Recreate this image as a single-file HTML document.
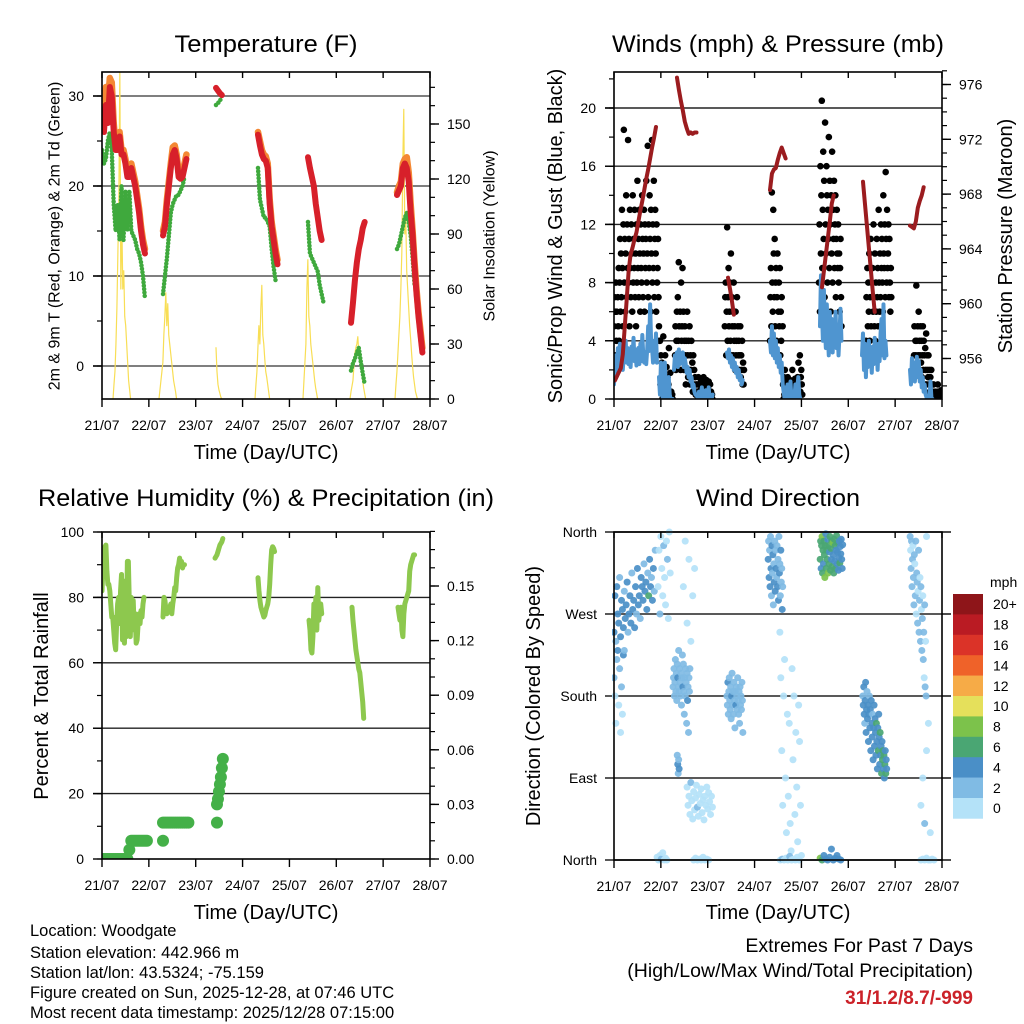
<!DOCTYPE html>
<html><head><meta charset="utf-8"><title>Weather station summary</title>
<style>
html,body{margin:0;padding:0;background:#fff;}
svg{display:block;font-family:"Liberation Sans",Arial,sans-serif;}
</style></head>
<body>
<svg id="chart" width="1024" height="1024" viewBox="0 0 1024 1024" xmlns="http://www.w3.org/2000/svg">
<rect width="1024" height="1024" fill="#fff"/>
<defs>
<clipPath id="c1"><rect x="102" y="72" width="328" height="327"/></clipPath>
<clipPath id="c2"><rect x="614" y="72" width="328" height="327"/></clipPath>
<clipPath id="c3"><rect x="102" y="532" width="328" height="327"/></clipPath>
<clipPath id="c4"><rect x="612" y="528" width="332" height="336"/></clipPath>
</defs>
<g font-size="24" text-anchor="middle" fill="#000">
<text x="266" y="52" textLength="183" lengthAdjust="spacingAndGlyphs">Temperature (F)</text>
<text x="778" y="52" textLength="332" lengthAdjust="spacingAndGlyphs">Winds (mph) &amp; Pressure (mb)</text>
<text x="266" y="506" textLength="456" lengthAdjust="spacingAndGlyphs">Relative Humidity (%) &amp; Precipitation (in)</text>
<text x="778" y="506" textLength="164" lengthAdjust="spacingAndGlyphs">Wind Direction</text>
</g>
<g font-size="20" text-anchor="middle">
<text x="266" y="459">Time (Day/UTC)</text>
<text x="778" y="459">Time (Day/UTC)</text>
<text x="266" y="919">Time (Day/UTC)</text>
<text x="778" y="919">Time (Day/UTC)</text>
<text font-size="16" transform="translate(55,236) rotate(-90)" dominant-baseline="central">2m &amp; 9m T (Red, Orange) &amp; 2m Td (Green)</text>
<text font-size="16" transform="translate(490,236) rotate(-90)" dominant-baseline="central">Solar Insolation (Yellow)</text>
<text transform="translate(556,236) rotate(-90)" dominant-baseline="central">Sonic/Prop Wind &amp; Gust (Blue, Black)</text>
<text transform="translate(1006,236) rotate(-90)" dominant-baseline="central">Station Pressure (Maroon)</text>
<text transform="translate(42,696) rotate(-90)" dominant-baseline="central">Percent &amp; Total Rainfall</text>
<text transform="translate(534,696) rotate(-90)" dominant-baseline="central">Direction (Colored By Speed)</text>
</g>
<g font-size="16.5">
<text x="30" y="936">Location: Woodgate</text>
<text x="30" y="958">Station elevation: 442.966 m</text>
<text x="30" y="978">Station lat/lon: 43.5324; -75.159</text>
<text x="30" y="998">Figure created on Sun, 2025-12-28, at 07:46 UTC</text>
<text x="30" y="1018">Most recent data timestamp: 2025/12/28 07:15:00</text>
</g>
<g font-size="19.5" text-anchor="end">
<text x="973" y="952">Extremes For Past 7 Days</text>
<text x="973" y="977">(High/Low/Max Wind/Total Precipitation)</text>
<text x="973" y="1004" fill="#cc2229" font-weight="bold" font-size="19">31/1.2/8.7/-999</text>
</g>
<g id="layer"></g>
</svg>
<script>
// ---------- DATA ----------
const dayLabels = ["21/07","22/07","23/07","24/07","25/07","26/07","27/07","28/07"];
const tempTicks = [0,10,20,30];
const solarTicks = [0,30,60,90,120,150];
const windTicks = [0,4,8,12,16,20];
const pressTicks = [956,960,964,968,972,976];
const rhTicks = [0,20,40,60,80,100];
const precipTicks = ["0.00","0.03","0.06","0.09","0.12","0.15"];
const dirTicks = [0,90,180,270,360];
const dirNames = ["North","East","South","West","North"];
const speedBins = ["0","2","4","6","8","10","12","14","16","18","20+"];
const speedColors = ["#b4e2f8","#80bbe4","#4a8fc7","#4aa673","#7cc24b","#e5e05b","#f6ab47","#ef6229","#db3328","#ba1b23","#8e1519"];

const H = 1/24;
const tempRed = [
 {start:0, step:H, vals:[28.5,26,29,27,31,30,26,24,24,25.5,23.5,23.5,22.5,21,21,22,21,20,18.5,17,15,13.5,12.5]},
 {start:1.302, step:H, vals:[14.5,15.5,18,20,22,23.5,24,23,21,20.8,21,22,23]},
 {start:2.433, step:H, vals:[30.9,30.6,30.3,30.1]},
 {start:3.329, step:H, vals:[25.7,24.5,23.5,23,22.8,22,18,15.5,14,12.5,11.3]},
 {start:4.396, step:H, vals:[23.2,22,21,20,18,16.5,15,14]},
 {start:5.314, step:H, vals:[4.8,7,9.5,11.5,13,14,15.3,16]},
 {start:6.296, step:H, vals:[19,19.5,20,22,22.5,22,20.5,17,14.5,11,8,5.5,3.5,1.5]}
];
const tempOrange = [
 {start:0, step:H, vals:[29.5,28,31,29,32,31.5,27,24.5,24.5,26,24,24,23,21.5,21.5,22.5,21.5,20.5,19,17.5,15.5,14,13]},
 {start:1.302, step:H, vals:[15,16,18.5,20.5,22.5,24.3,24.5,23.5,21.5,21.2,21.5,22.5,23.5]},
 {start:3.329, step:H, vals:[26,25,24,23.5,23.3,22.5,18.5,16,14.5,13,11.8]},
 {start:6.296, step:H, vals:[19.3,20,20.5,22.5,23,23.2,21.5,18,15,11.5,8.5,6,4,2]}
];
const dewGreen = [
 {start:0, step:H, vals:[24,22.5,23,25,26,24,18,15,18,14,20,14,19.5,15,19.5,15,14.5,14,13,12.5,11.5,10,7.5]},
 {start:1.302, step:H, vals:[8,10,12,14.5,17,18,18.5,19,19,19.5,20,21]},
 {start:2.433, step:H, vals:[29,29.2,29.5,29.8]},
 {start:3.329, step:H, vals:[22,18.5,17.5,16.5,16.5,16,15.5,13,11,9.5]},
 {start:4.396, step:H, vals:[16,12.5,12,11.5,11,10.5,9,8,7]},
 {start:5.314, step:H, vals:[-0.5,0.3,0.8,1.5,2,0.5,-0.8,-2]},
 {start:6.296, step:H, vals:[13,13.5,14.5,15.5,16.5,17,16,14.5,12,9]}
];
const solar = [
 {start:0.235, step:H/2, vals:[0,8,15,30,50,80,110,180,60,100,60,70,45,40,30,20,10,5,0]},
 {start:1.216, step:H/2, vals:[0,5,10,15,20,35,45,58,40,52,35,30,25,20,15,10,7,4,0]},
 {start:2.433, step:H/2, vals:[28,15,8,5,3,1,0]},
 {start:3.265, step:H/2, vals:[0,8,15,28,40,30,50,62,35,30,22,15,12,8,4,0]},
 {start:4.289, step:H/2, vals:[0,10,20,30,60,76,45,40,30,25,20,15,10,6,3,0]},
 {start:5.293, step:H/2, vals:[0,4,7,10,18,25,28,30,34,25,22,20,15,10,6,3,0]},
 {start:6.253, step:H/2, vals:[0,8,15,25,35,45,60,80,130,158,90,100,70,60,50,40,33,25,18,12,8,4,2,0]}
];
const windSustained = [
 {start:0, step:H/2, vals:[1,2.5,3,2,3.5,2.2,3.8,2.5,3.3,2,3,2.8,4,2.5,3.5,2.4,3.2,2.2,3.6,2.8,4.2,2.6,3.4,2.3,3,3.5,2.4,3.8,2.6,4.4,3,2.5,3.2,2.4,3.4,5,3.3,6.5,4,3.5,2.5,4,3,4.5,2.5]},
 {start:0.960, step:H/2, vals:[1.5,0.3,2.5,0.5,0,1,2.5,0.5,0,0,1.5,0.3,0,0,0]},
 {start:1.280, step:H/2, vals:[2,3,2.5,3.2,2.2,3.4,2.4,3,2.6,3.2,2.2,2.8,2.4,1.8,2.2,1.5,2,1.2,1.5,0.8,1,0.5,0.3]},
 {start:1.771, step:H/2, vals:[0.2,0,0.5,0,0.3,0.8,0,0.4,0,0.6,0,0.3,0.8,0,0.2,0,0.3]},
 {start:2.412, step:H/2, vals:[3.2,2.8,3.4,2.5,3,2.2,2.8,2,2.5,1.8,2.2,1.5,2,1.3,1.6,1,1.3]},
 {start:3.329, step:H/2, vals:[4,3.2,5,3,4.5,2.8,4,2.5,3.5,2.2,3,1.8,2.5,1,0.5,0,0.8,0,1,0.3,0,1.2,0,0.5,0.2,0,1,0,0.8,1.5,0.3,0]},
 {start:4.396, step:H/2, vals:[5,8.5,6,4,7.5,5,3.5,6.5,4.5,3,6,4,5.5,3.2,5,4,6,3.5,5,3,4.5,6.2,4]},
 {start:5.293, step:H/2, vals:[3,4.5,2,3.8,1.5,3.5,2.2,4,2.5,3.2,1.8,3.6,2.4,4.2,2.8,3.4,2,3.8,2.6,4.5,5.5,3,6.5,2.8,4,3]},
 {start:6.317, step:H/2, vals:[2,1,2.8,1.5,2.5,1.2,2.2,2.9,1.5,2.6,1.2,2,0.8,1.5,0.5,1,0.3,0.1,0,0,0.2,1.2,0,0]}
];
const windGust = [
 {start:0, step:0.01, vals:[5,7,3,6,8,4,6,2,7,5,9,4,8,11,6,10,7,13,9,5,12,18.5,8,11,6,10,14,7,12,9,17.8,8,11,5,13,9,7,12,10,6,14,8,11,9,13,7,10,5,12,8,15,9,11,7,13,10,6,12,9,8,14,11,7,10,13,6,12,9,11,15,8,10,17.4,7,12,9,14,11,6,13,10,17.8,8,12,9,15,7,11,13,10,6,12,8,9,11,7,5,4]},
 {start:0.982, step:0.01, vals:[4,1,3,0.5,2.5,0,1.5,4.3,0.8,2,0,3,1,0,2.2,0.5,1.5,0,1,3.5,0.3,0,1.8,0,0.5,0,0.3,0]},
 {start:1.302, step:0.01, vals:[3,5,2,4,6,3,7,4,9.4,5,3,6,2,8,4,5,9,3,6,2,4,5,3,1,4,2,6,3,1.5,4,2,5,1,3,2,4,1,2.5,0.5,3,1,2,0.5,1.5,0.3,1,0.5]},
 {start:1.771, step:0.01, vals:[0.5,1,0,1.5,0.3,0,1,0.6,0,1.2,0.4,0,0.8,0,1.5,0.2,0,1,0.5,0,1.3,0.3,0,0.8,0,1.2,0.5,0,1,0.2,0.5,0,0.3,0]},
 {start:2.365, step:0.01, vals:[5,7,8,3,6,11.8,4,7,9,5,6,8,4,10,3,7,5,6,3,8,4,5,2,6,3,4,7,2,5,3,4,2,3,5,1.5,3,2,4,1,2.5,1,2]},
 {start:3.329, step:0.01, vals:[4,7,9,5,14.2,8,6,13,10,7,11,5,8,9,4,7,10,3,6,8,5,9,3,6,4,7,2,5]},
 {start:3.607, step:0.01, vals:[1,0,1.5,0.3,2,0,0.8,1.2,0,0.5,1.5,0,1,0.2,0,1.3,0.5,0,1,0,2,0.3,0.6,0,1,0,1.4,0.2,0,0.8,0,1.5,0.3,2.5,0,1,3,0.5,1.5,2,1,0.3]},
 {start:4.375, step:0.01, vals:[8,12,6,16,10,14,20.5,9,13,17,11,15,7,19,12,10,16,14,8,13,11,18,9,15,12,6,14,10,17,8,13,11,15,9,12,14,7,11,13,10,9,12,8,10,6,9,11,7,5]},
 {start:5.378, step:0.01, vals:[4,7,3,9,5,8,6,10,4,7,11,5,8,3,9,6,12,7,5,10,4,8,6,11,7,9,5,13,8,6,10,7,12,9,11,8,6,14,10,9,12,7,15.6,11,8,13,9,10,12,7,11,8,6,9,7]},
 {start:6.402, step:0.01, vals:[3,5,2,4,3,7.8,4,2,5,3,6,2,4,3,5,2.5,4,1.5,3,5,2,4,3,1,3.5,2,4.5,1,3,2,1.5,3,1,2,0.5,1.5,1,2,0.3,1,0.5,0,1,0.2,0,0.5,0]},
 {start:6.871, step:0.01, vals:[0,0.3,0,0.5,1,0,0.2,0,0,0.4,0,0.6,0,0,0.2,0,0,0.3,0]}
];
const pressure = [
 {start:0.021, step:H, vals:[954.4,954.7,955,955.3,956.3,958.3,960.3,962.4,963.6,964.1,964.7,965.2,966,966.8,967.5,968.3,969.1,969.8,970.6,971.4,972.1,972.9]},
 {start:1.344, step:H, vals:[976.5,975.6,974.8,974.1,973.3,972.8,972.4,972.5,972.4,972.5,972.5]},
 {start:2.433, step:H, vals:[961.9,961.1,960.2,959.2]},
 {start:3.329, step:H, vals:[968.3,969.5,969.8,969.9,970.5,971,971.4,971,970.6]},
 {start:4.439, step:H, vals:[961.2,962.4,963.6,964.8,966,967.3,967.9]},
 {start:5.314, step:H, vals:[968.9,967.3,965.7,964.1,962.5,960.9,959.4]},
 {start:6.317, step:H, vals:[965.7,965.6,965.5,966,967,967.5,967.9,968.5]}
];
const humidity = [
 {start:0, step:H/2, vals:[82,90,94,95.5,96,88,84,84,82,78,74,74,70,66,64,72,78,80,72,82,87,67,80,66,85,68,91,91,78,68,80,72,79,70,75,66,67,72,75,72,76,74,78,80]},
 {start:1.302, step:H/2, vals:[74,80,79,76,75,77,76,77,78,75,78,80,83,82,86,89,90,92,90,91,89,90,90]},
 {start:2.412, step:H/2, vals:[92,92.5,93,94,95,96,96.5,97,98]},
 {start:3.329, step:H/2, vals:[86,82,79,77,76,75,74,74.5,76,77,78,80,84,90,94.5,95.5,95,94]},
 {start:4.418, step:H/2, vals:[73,70,64,63,68,78,72,80,70,83,73,76,78,75]},
 {start:5.335, step:H/2, vals:[77,73,70,67,64,62,60,58,57,54,51,48,43]},
 {start:6.317, step:H/2, vals:[77,75,73,77,70,68,75,78,79,80,81,82,88,90,91,92,93,93]}
];
const precip = [
 {start:0, step:H, vals:[0,0,0,0,0,0,0,0,0,0,0,0,0,0,0.005,0.01,0.01,0.01,0.01,0.01,0.01,0.01,0.01,0.01]},
 {start:1.302, step:H, vals:[0.01]},
 {start:1.302, step:H, vals:[0.02,0.02,0.02,0.02,0.02,0.02,0.02,0.02,0.02,0.02,0.02,0.02,0.02,0.02]},
 {start:2.454, step:H, vals:[0.02]},
 {start:2.454, step:H/2, vals:[0.03,0.033,0.037,0.041,0.045,0.05,0.055]}
];
const windDir = [
 {start:0, step:0.02, dir:[250,290,240,300,270,260,310,245,285,275,255,295,265,280,305,250,270,290,260,315,275,285,255,300,270,320,280,290,265,310,300,285,325,295,305,275,315,290,330,300,310,285,320,295,340], spd:[5,4,3,5,4,5,3,4,5,4,5,3,4,5,4,3,5,4,5,3,4,5,4,5,3,4,5,4,3,5,4,5,3,4,5,4,3,7,4,5,3,4,5,3,2]},
 {start:0, step:0.02, dir:[200,180,150,220,230,170,210,140,190,160,225,230], spd:[2,1,1,3,4,1,2,1,3,1,4,3]},
 {start:0.94, step:0.02, dir:[300,340,270,355,320,290,345,310,280,350,330,265,360,315], spd:[1,1,2,1,1,0.5,2,1,1,1,2,1,1,1]},
 {start:1.26, step:0.01, dir:[190,200,210,180,195,220,185,205,175,215,200,190,230,185,210,195,180,205,170,200,225,190,215,185,160,200,180,210,195,150,205,175,190,140,200,185,210], spd:[3,2,3,2,3,3,2,3,2,3,4,2,3,2,3,2,3,3,2,3,2,4,3,2,3,2,3,2,3,2,3,4,2,3,2,3,2]},
 {start:1.35, step:0.01, dir:[115,105,95,110,100], spd:[3,4,3,3,4]},
 {start:1.56, step:0.02, dir:[80,60,70,50,85,65,45,75,55,68,82,58,48,72,62,78,52,66,44,70,60,80,56,74,64,50,70,58], spd:[1,1,1,1,2,1,1,1,1,1,1,2,1,1,1,1,1,1,1,1,1,1,1,1,1,1,1,1]},
 {start:1.48, step:0.04, dir:[300,350,260,330,240,290,320], spd:[1,1,1,1,1,1,1]},
 {start:2.41, step:0.01, dir:[180,170,195,160,185,200,175,165,190,155,180,205,170,185,160,195,175,145,185,170,190,180,165,200,175,160,185,150,190,170,180,165,195,175,140], spd:[3,3,4,3,3,3,2,3,3,3,4,3,2,3,3,3,3,2,3,4,3,3,3,2,3,3,3,2,3,3,3,3,2,3,3]},
 {start:3.29, step:0.01, dir:[330,350,310,340,300,355,320,290,345,315,335,280,325,305,350,295,340,320,310,345,300,330,285,355,315,325,290,340,305,320,275,300], spd:[4,3,5,3,4,3,5,3,4,3,5,3,3,4,3,5,3,4,3,3,4,3,5,3,4,3,3,4,3,3,4,3]},
 {start:3.54, step:0.02, dir:[250,200,120,60,180,220,90,30,160,70,150,40,10,210,110,180,50,140,80,20,170,130,60,5], spd:[1,1,1,1,1,1,1,1,1,1,1,1,1,1,1,1,1,1,1,1,1,1,1,1]},
 {start:4.40, step:0.01, dir:[330,350,320,345,355,315,340,325,350,335,310,345,358,320,340,330,352,315,345,325,338,355,318,342,330,350,322,348,335,315,352,328,345,320,340,356,325,338,348,318,332,350,326,344,336,352,330,320,346], spd:[6,7,5,6,8,7,6,5,7,6,8,7,5,6,7,6,5,8,6,7,5,6,7,6,5,7,6,8,5,6,7,5,6,7,5,6,4,5,6,5,4,5,6,4,5,4,5,4,5]},
 {start:5.31, step:0.01, dir:[180,170,190,160,150,175,195,140,165,185,155,170,130,160,180,145,165,120,175,150,135,160,110,145,170,125,155,140,115,150,130,100,145,120,160,135,105,140,115,125,95,130,110,120,100,115,90,105,120,95,110,100], spd:[3,4,5,4,3,5,4,5,4,3,5,4,5,4,3,5,4,5,4,5,4,3,5,4,5,5,4,5,4,6,5,4,5,6,4,5,5,6,4,5,6,5,7,6,5,6,4,7,5,6,5,4]},
 {start:6.32, step:0.01, dir:[355,340,320,350,300,330,345,310,280,335,325,290,350,270,315,305,260,295,340,250,285,310,240,300,275,230,265,290,220,250,200,280,190,240,180,355], spd:[2,1,3,2,2,3,1,2,2,3,1,2,2,1,3,2,2,1,2,2,3,1,2,2,1,2,3,1,2,2,1,2,3,1,2,1]},
 {start:6.55, step:0.04, dir:[60,90,40,120,150,30], spd:[1,1,3,1,1,1]},
 {start:0.92, step:0.03, dir:[3,0,5,1,8,0,2,0], spd:[1,1,1,2,1,1,1,1]},
 {start:1.70, step:0.04, dir:[0,2,0,1,0,3,0,1,0], spd:[1,1,1,1,1,1,1,1,1]},
 {start:3.55, step:0.04, dir:[0,1,0,2,0,4,0,1,0,3,0], spd:[1,2,1,1,1,2,1,1,1,1,1]},
 {start:4.40, step:0.04, dir:[2,0,5,1,0,3,12,0,2,5,1,0], spd:[8,7,5,4,5,4,4,5,4,5,4,4]},
 {start:6.55, step:0.04, dir:[0,1,0,2,0,0,1,0], spd:[1,1,1,1,1,1,1,1]}
];

// ---------- DRAWING ----------
const NS = "http://www.w3.org/2000/svg";
const layer = document.getElementById("layer");
function mk(tag, parent){ const e = document.createElementNS(NS, tag); parent.appendChild(e); return e; }
function set(e, o){ for (const k in o) e.setAttribute(k, o[k]); return e; }
function lin(v0, p0, v1, p1){ return v => p0 + (v - v0) * (p1 - p0) / (v1 - v0); }

const panels = [
 {id:"temp", L:102, R:430, T:72, B:399, clip:"c1"},
 {id:"winds", L:614, R:942, T:72, B:399, clip:"c2"},
 {id:"humidity", L:102, R:430, T:532, B:859, clip:"c3"},
 {id:"direction", L:614, R:942, T:532, B:860, clip:"c4"}
];
panels.forEach(p => { p.x = lin(0, p.L, 7, p.R); });
const [P1, P2, P3, P4] = panels;
const yTemp = lin(0, 366, 30, 96);
const ySolar = lin(0, 399, 150, 124);
const yWind = lin(0, 399, 20, 108);
const yPress = lin(956, 358.5, 976, 84.5);
const yRH = lin(0, 859, 100, 532);
const yPrecip = lin(0, 859, 0.15, 586);
const yDir = lin(0, 860, 360, 532);

function hline(g, x1, x2, y, w, c){ const l = mk("line", g); set(l, {x1:x1, x2:x2, y1:y, y2:y, stroke:c, "stroke-width":w}); return l; }
function vline(g, x, y1, y2, w, c){ const l = mk("line", g); set(l, {x1:x, x2:x, y1:y1, y2:y2, stroke:c, "stroke-width":w}); return l; }
function txt(g, x, y, s, anchor, size){ const t = mk("text", g); set(t, {x:x, y:y, "text-anchor":anchor, "font-size":size}); t.textContent = s; return t; }

function axesFrame(p, gridVals, yScale, gridColor){
  const g = mk("g", layer);
  
  
  gridVals.forEach(v => {
    const l = hline(g, p.L - 9, p.R, yScale(v), 1.4, gridColor);
    
    
  });
  return g;
}
function frame(p){
  const g = mk("g", layer);
  
  
  const r = mk("rect", g);
  set(r, {x:p.L, y:p.T, width:p.R - p.L, height:p.B - p.T, fill:"none", stroke:"#000", "stroke-width":1.6});
  
  
  const xg = mk("g", g);
  
  
  dayLabels.forEach((s, i) => {
    const x = p.x(i);
    vline(xg, x, p.T, p.T + 6, 1.4, "#000");
    vline(xg, x, p.B, p.B + 8, 1.4, "#000");
    const t = txt(xg, x, p.B + 31, s, "middle", 14);
    
    
  });
  return g;
}
function leftTicks(p, vals, labels, yScale, minorVals){
  const g = mk("g", layer);
  
  
  minorVals.forEach(v => hline(g, p.L - 5, p.L, yScale(v), 1.2, "#000"));
  vals.forEach((v, i) => {
    hline(g, p.L - 9, p.L, yScale(v), 1.4, "#000");
    const t = txt(g, p.L - 18, yScale(v) + 5, labels[i], "end", 14);
    
    
  });
}
function rightTicks(p, vals, labels, yScale, minorVals){
  const g = mk("g", layer);
  
  
  minorVals.forEach(v => hline(g, p.R, p.R + 5, yScale(v), 1.2, "#000"));
  vals.forEach((v, i) => {
    hline(g, p.R, p.R + 9, yScale(v), 1.4, "#000");
    const t = txt(g, p.R + 17, yScale(v) + 5, labels[i], "start", 14);
    
    
  });
}
function range(a, b, s){ const r = []; for (let v = a; v <= b + 1e-9; v += s) r.push(+v.toFixed(4)); return r; }

function series(p, segs, yScale, color, width, name, dotted){
  const g = mk("g", layer);
  
  
  g.setAttribute('clip-path', 'url(#' + p.clip + ')');
  segs.forEach(seg => {
    const pts = seg.vals.map((v, i) => p.x(seg.start + i * seg.step).toFixed(2) + "," + yScale(v).toFixed(2)).join(" ");
    const pl = mk("polyline", g);
    set(pl, {points:pts, fill:"none", stroke:color, "stroke-width":width, "stroke-linecap":"round", "stroke-linejoin":"round"});
    if (dotted) set(pl, {"stroke-dasharray":"0 3.4"});
    
    
  });
}
function dots(p, segs, yScale, color, r, name){
  const g = mk("g", layer);
  
  
  g.setAttribute('clip-path', 'url(#' + p.clip + ')');
  segs.forEach(seg => seg.vals.forEach((v, i) => {
    const c = mk("circle", g);
    set(c, {cx:p.x(seg.start + i * seg.step).toFixed(2), cy:yScale(v).toFixed(2), r:r, fill:color});
    
    
  }));
}
function speedColor(s){ let i = Math.floor(s / 2); if (i > 10) i = 10; if (i < 0) i = 0; return speedColors[i]; }

// Panel 1: temperature
axesFrame(P1, tempTicks, yTemp, "#555");
series(P1, solar, ySolar, "#f8de55", 1.2, "solar-insolation-line", false);
series(P1, dewGreen, yTemp, "#3fa93d", 4.5, "dewpoint-2m", true);
series(P1, tempOrange, yTemp, "#f48834", 6.5, "temperature-9m", false);
series(P1, tempRed, yTemp, "#d7202a", 6, "temperature-2m", false);
frame(P1);
leftTicks(P1, tempTicks, tempTicks.map(String), yTemp, range(0, 30, 5));
rightTicks(P1, solarTicks, solarTicks.map(String), ySolar, range(0, 170, 10));

// Panel 2: winds & pressure
axesFrame(P2, windTicks.slice(1), yWind, "#222");
dots(P2, windGust, yWind, "#000", 3.3, "wind-gust");
series(P2, windSustained, yWind, "#4f95d0", 4, "wind-sustained", false);
series(P2, pressure, yPress, "#9b1c1f", 4, "station-pressure", false);
frame(P2);
leftTicks(P2, windTicks, windTicks.map(String), yWind, range(0, 22, 2));
rightTicks(P2, pressTicks, pressTicks.map(String), yPress, range(954, 977, 1));

// Panel 3: humidity & precip
axesFrame(P3, rhTicks.slice(1, 5), yRH, "#222");
series(P3, humidity, yRH, "#8dc84e", 5, "relative-humidity", false);
dots(P3, precip, yPrecip, "#44b048", 6, "precipitation");
frame(P3);
leftTicks(P3, rhTicks, rhTicks.map(String), yRH, range(0, 100, 10));
rightTicks(P3, precipTicks.map(Number), precipTicks, yPrecip, range(0, 0.18, 0.01));

// Panel 4: wind direction
axesFrame(P4, dirTicks, yDir, "#222");
(function(){
  const g = mk("g", layer);
  
  
  g.setAttribute('clip-path', 'url(#c4)');
  windDir.forEach(seg => seg.dir.forEach((d, i) => {
    const c = mk("circle", g);
    set(c, {cx:P4.x(seg.start + i * seg.step).toFixed(2), cy:yDir(d).toFixed(2), r:3.5, fill:speedColor(seg.spd[i]), "fill-opacity":0.92});
    
    
  }));
})();
frame(P4);
(function(){
  const g = mk("g", layer);
  
  
  dirTicks.forEach((v, i) => {
    const t = txt(g, P4.L - 17, yDir(v) + 5, dirNames[i], "end", 14);
    
    
  });
  dirTicks.forEach(v => hline(g, P4.R, P4.R + 9, yDir(v), 1.4, "#000"));
})();

// Colorbar legend
(function(){
  const g = mk("g", layer);
  
  
  const t = txt(g, 990, 587, "mph", "start", 14);
  
  
  const n = speedBins.length, top = 594, h = 20.4;
  for (let k = 0; k < n; k++) {
    const idx = n - 1 - k;
    const r = mk("rect", g);
    set(r, {x:953, y:top + k * h, width:30, height:h + 0.3, fill:speedColors[idx]});
    
    
    const l = txt(g, 993, top + k * h + h / 2 + 5, speedBins[idx], "start", 14);
    
    
  }
})();
</script>
</body></html>
